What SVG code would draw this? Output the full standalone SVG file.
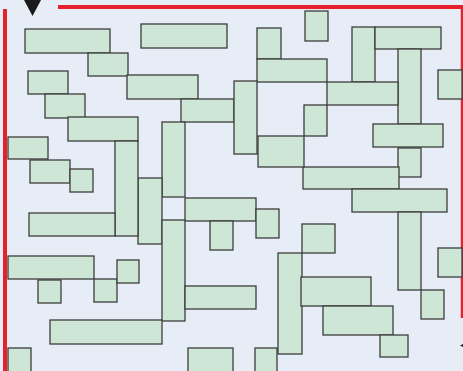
<svg xmlns="http://www.w3.org/2000/svg" width="463" height="371" viewBox="0 0 463 371">
<style>
.b{fill:#cde6d5;stroke:#3c3c3c;stroke-width:1.3}
.w{fill:none;stroke:#e8202a;stroke-width:4}
</style>
<rect x="0" y="0" width="463" height="371" fill="#e7edf7"/>
<g id="walls">
<line class="w" x1="5" y1="9" x2="5" y2="371"/>
<line class="w" x1="58" y1="7" x2="463" y2="7"/>
<line x1="462" y1="7" x2="462" y2="318" stroke="#e8202a" stroke-width="2.5"/>
</g>
<polygon id="start" points="24,0 41,0 32.5,16" fill="#1a1a1a"/>
<path id="exit" d="M460,345.5 L463,344 L463,347 Z" fill="#222"/>
<g id="blocks">
<rect id="b1" class="b" x="25" y="29" width="85" height="24"/>
<rect id="b2" class="b" x="88" y="53" width="40" height="23"/>
<rect id="b3" class="b" x="28" y="71" width="40" height="23"/>
<rect id="b4" class="b" x="45" y="94" width="40" height="24"/>
<rect id="b5" class="b" x="68" y="117" width="70" height="24"/>
<rect id="b6" class="b" x="127" y="75" width="71" height="24"/>
<rect id="b7" class="b" x="141" y="24" width="86" height="24"/>
<rect id="b8" class="b" x="257" y="28" width="24" height="31"/>
<rect id="b9" class="b" x="257" y="59" width="70" height="23"/>
<rect id="b10" class="b" x="181" y="99" width="53" height="23"/>
<rect id="b11" class="b" x="234" y="81" width="23" height="73"/>
<rect id="b12" class="b" x="162" y="122" width="23" height="75"/>
<rect id="b13" class="b" x="305" y="11" width="23" height="30"/>
<rect id="b14" class="b" x="304" y="105" width="23" height="31"/>
<rect id="b15" class="b" x="352" y="27" width="23" height="55"/>
<rect id="b16" class="b" x="375" y="27" width="66" height="22"/>
<rect id="b17" class="b" x="398" y="49" width="23" height="75"/>
<rect id="b18" class="b" x="327" y="82" width="71" height="23"/>
<rect id="b19" class="b" x="438" y="70" width="24" height="29"/>
<rect id="b20" class="b" x="373" y="124" width="70" height="23"/>
<rect id="b21" class="b" x="398" y="148" width="23" height="29"/>
<rect id="b22" class="b" x="303" y="167" width="96" height="22"/>
<rect id="b23" class="b" x="352" y="189" width="95" height="23"/>
<rect id="b24" class="b" x="398" y="212" width="23" height="78"/>
<rect id="b25" class="b" x="302" y="224" width="33" height="29"/>
<rect id="b26" class="b" x="258" y="136" width="46" height="31"/>
<rect id="b27" class="b" x="138" y="178" width="24" height="66"/>
<rect id="b28" class="b" x="185" y="198" width="71" height="23"/>
<rect id="b29" class="b" x="256" y="209" width="23" height="29"/>
<rect id="b30" class="b" x="210" y="221" width="23" height="29"/>
<rect id="b31" class="b" x="162" y="220" width="23" height="101"/>
<rect id="b32" class="b" x="438" y="248" width="24" height="29"/>
<rect id="b33" class="b" x="8" y="137" width="40" height="22"/>
<rect id="b34" class="b" x="30" y="160" width="40" height="23"/>
<rect id="b35" class="b" x="70" y="169" width="23" height="23"/>
<rect id="b36" class="b" x="115" y="141" width="23" height="95"/>
<rect id="b37" class="b" x="29" y="213" width="86" height="23"/>
<rect id="b38" class="b" x="8" y="256" width="86" height="23"/>
<rect id="b39" class="b" x="38" y="280" width="23" height="23"/>
<rect id="b40" class="b" x="94" y="279" width="23" height="23"/>
<rect id="b41" class="b" x="117" y="260" width="22" height="23"/>
<rect id="b42" class="b" x="50" y="320" width="112" height="24"/>
<rect id="b43" class="b" x="8" y="348" width="23" height="25"/>
<rect id="b44" class="b" x="185" y="286" width="71" height="23"/>
<rect id="b45" class="b" x="188" y="348" width="45" height="25"/>
<rect id="b46" class="b" x="255" y="348" width="22" height="25"/>
<rect id="b47" class="b" x="278" y="253" width="24" height="101"/>
<rect id="b48" class="b" x="301" y="277" width="70" height="29"/>
<rect id="b49" class="b" x="323" y="306" width="70" height="29"/>
<rect id="b50" class="b" x="380" y="335" width="28" height="22"/>
<rect id="b51" class="b" x="421" y="290" width="23" height="29"/>
</g>
</svg>
